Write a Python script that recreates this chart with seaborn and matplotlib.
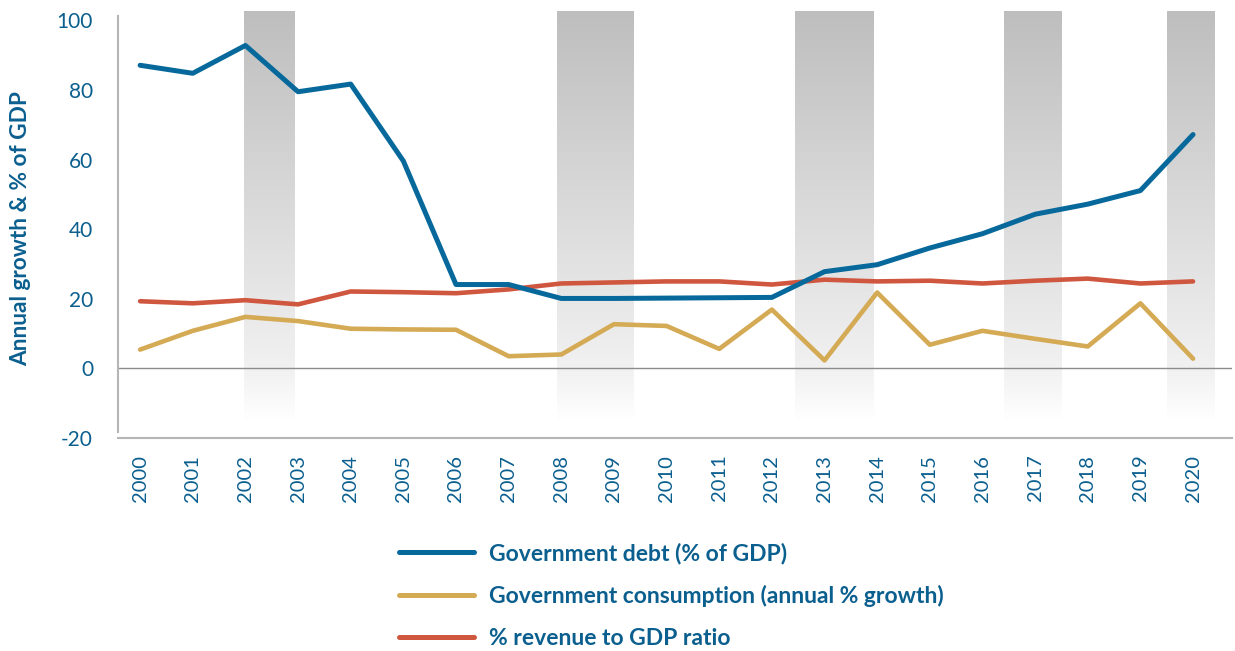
import numpy as np
import pandas as pd
import matplotlib
matplotlib.use("Agg")
import matplotlib.pyplot as plt
import seaborn as sns

years = list(range(2000, 2021))
debt = [87.1, 84.8, 92.8, 79.5, 81.7, 59.6, 24.1, 24.1, 20.1, 20.1, 20.2, 20.3, 20.4,
        27.8, 29.8, 34.6, 38.7, 44.3, 47.2, 51.1, 67.2]
consumption = [5.4, 10.8, 14.8, 13.6, 11.4, 11.2, 11.1, 3.5, 4.0, 12.7, 12.2, 5.6, 16.9,
               2.3, 21.8, 6.8, 10.8, 8.5, 6.3, 18.7, 2.8]
revenue = [19.3, 18.7, 19.6, 18.4, 22.1, 21.9, 21.6, 22.7, 24.4, 24.7, 25.0, 25.0, 24.1,
           25.5, 25.0, 25.2, 24.4, 25.2, 25.8, 24.4, 25.0]
series_names = ["Government debt (% of GDP)",
                "Government consumption (annual % growth)",
                "% revenue to GDP ratio"]
band_starts = [2001.98, 2007.92, 2012.44, 2016.41, 2019.51]
band_ends = [2002.93, 2009.38, 2013.94, 2017.51, 2020.42]
y_ticks = [-20, 0, 20, 40, 60, 80, 100]

colors = ["#07699b", "#d4aa55", "#d0573f"]
text_color = "#0b5f8f"

sns.set_theme(style="white")
plt.rcParams["font.family"] = ["Lato", "DejaVu Sans"]

fig = plt.figure(figsize=(12.35, 6.51), dpi=100)
ax = fig.add_axes([118 / 1235, 1 - 438 / 651, (1232 - 118) / 1235, (438 - 11) / 651])

ymin, ymax = -18.4, 102.7
ax.set_xlim(1999.58, 2020.74)
ax.set_ylim(ymin, ymax)

# gradient bands
grad_y = np.linspace(ymax, -15, 300)
shade = np.interp(grad_y, [-15, 0, ymax], [1.0, 0.945, 0.745])
img = np.dstack([shade] * 3).reshape(300, 1, 3)
for s, e in zip(band_starts, band_ends):
    ax.imshow(img, extent=[s, e, -15, ymax], aspect="auto", zorder=0,
              interpolation="bilinear")

ax.axhline(0, color="#8c8c8c", lw=1.0, zorder=1)

df = pd.DataFrame({"year": years * 3,
                   "value": debt + consumption + revenue,
                   "series": [series_names[0]] * 21 + [series_names[1]] * 21 + [series_names[2]] * 21})
widths = [3.6, 3.3, 3.3]
zorders = [5, 4, 3]
for name, c, w, z in zip(series_names, colors, widths, zorders):
    sns.lineplot(data=df[df.series == name], x="year", y="value", color=c, lw=w,
                 ax=ax, label=name, solid_joinstyle="round", solid_capstyle="round",
                 zorder=z)

ax.set_xticks(years)
ax.set_xticklabels([str(y) for y in years], rotation=90, fontsize=14.5, color=text_color)
ax.set_yticks(y_ticks)
ax.set_yticklabels([str(t) for t in y_ticks], fontsize=15, color=text_color)
ax.tick_params(axis="y", length=0, pad=18)
ax.tick_params(axis="x", length=0, pad=12)
ax.set_xlabel("")
ax.set_ylabel("Annual growth & % of GDP", fontsize=16.3, fontweight="bold",
              color=text_color)
ax.yaxis.set_label_coords(-0.078, 0.49)

for side in ["top", "right"]:
    ax.spines[side].set_visible(False)
for side in ["left", "bottom"]:
    ax.spines[side].set_color("#b5b5b5")
    ax.spines[side].set_linewidth(1.5)
ax.spines["left"].set_bounds(ymin, 101.3)

leg = ax.legend(loc="upper left", bbox_to_anchor=(378 / 1235, 1 - 522 / 651),
                bbox_transform=fig.transFigure, frameon=False, handlelength=3.3,
                handletextpad=0.65, labelspacing=0.9,
                prop={"family": "Lato", "weight": "bold", "size": 16.5})
for t in leg.get_texts():
    t.set_color(text_color)
for h in leg.get_lines():
    h.set_linewidth(3.6)
    h.set_solid_capstyle("round")

fig.savefig("out.png", dpi=100)
